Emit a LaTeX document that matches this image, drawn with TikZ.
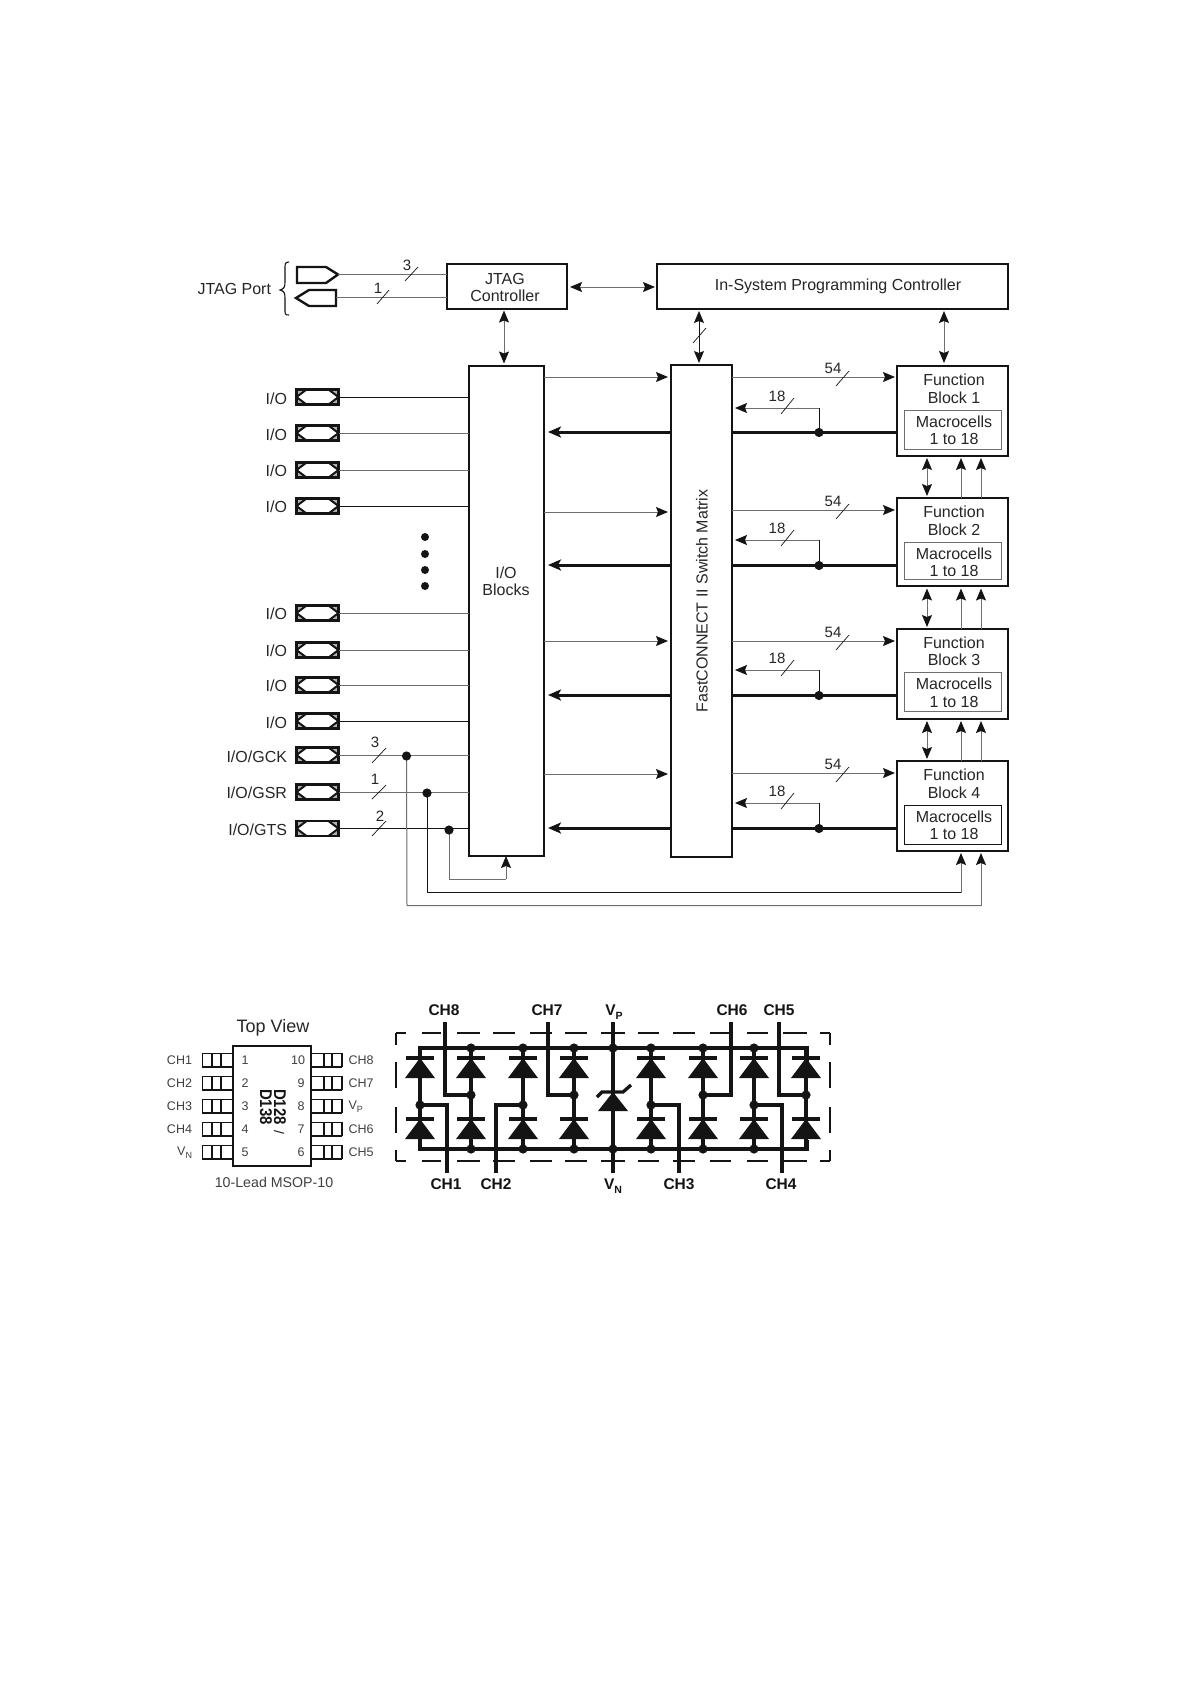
\documentclass[tikz,border=0pt]{standalone}
\usepackage{fontspec}
\setmainfont{Liberation Sans}
\usetikzlibrary{arrows.meta}
\newcommand{\fsz}[1]{\fontsize{#1}{#1}\selectfont}
\newcommand{\subs}[1]{\raisebox{-0.25em}{\fontsize{9}{9}\selectfont #1}}
\newcommand{\subsb}[1]{\raisebox{-0.3em}{\fontsize{10.5}{10.5}\selectfont #1}}
% \mybox[style]{name}{x0}{y0}{x1}{y1}{text}
\newcommand{\mybox}[7][]{\node[#1,minimum width={(#5-#3)*1pt},minimum height={(#6-#4)*1pt}] (#2) at ({(#3+#5)/2},{(#4+#6)/2}) {#7};}
\newcommand{\pinbi}[2]{%
  \node[pinbox] (#1) at (317.5,#2) {};
  \fill[gray!60] ([xshift=10pt]#1.north west) -- (#1.west) -- (#1.north west) -- cycle;
  \fill[gray!60] ([xshift=10pt]#1.south west) -- (#1.west) -- (#1.south west) -- cycle;
  \fill[gray!60] ([xshift=-10pt]#1.north east) -- (#1.east) -- (#1.north east) -- cycle;
  \fill[gray!60] ([xshift=-10pt]#1.south east) -- (#1.east) -- (#1.south east) -- cycle;
  \draw[pinedge] ([xshift=10pt]#1.north west) -- (#1.west) -- ([xshift=10pt]#1.south west);
  \draw[pinedge] ([xshift=-10pt]#1.north east) -- (#1.east) -- ([xshift=-10pt]#1.south east);
  \draw[draw=ink,line width=2.6pt] (#1.south west) rectangle (#1.north east);}
\newcommand{\diode}[2]{%
  \fill[ink] (#1,#2) -- (#1-15,#2+20) -- (#1+15,#2+20) -- cycle;
  \draw[cw] (#1-14,#2) -- (#1+14,#2);}
\definecolor{ink}{HTML}{141414}
\definecolor{wiregray}{HTML}{6E6E6E}
\tikzset{
  x=1pt,y=-1pt,
  every node/.style={font=\fsz{16},text=black!85,inner sep=0pt,outer sep=0pt},
  blockbox/.style={draw=ink,line width=2.6pt,fill=white,align=center},
  innerbox/.style={draw=wiregray,line width=1pt,fill=white},
  innerboxb/.style={draw=ink,line width=1pt,fill=white},
  pinbox/.style={draw=ink,line width=2.6pt,minimum width=42pt,minimum height=15pt,fill=white},
  pinedge/.style={draw=ink,line width=2pt},
  wire/.style={draw=wiregray,line width=1pt},
  wireb/.style={draw=ink,line width=1pt},
  thickw/.style={draw=ink,line width=3pt},
  arr/.style={-{Stealth[length=12pt,width=10pt,inset=2pt,ink]}},
  biarr/.style={{Stealth[length=12pt,width=10pt,inset=2pt,ink]}-{Stealth[length=12pt,width=10pt,inset=2pt,ink]}},
  thickarr/.style={-{Stealth[length=13pt,width=11pt,inset=3pt,ink]}},
  slash/.style={draw=ink,line width=0.7pt},
  num/.style={font=\fsz{15}},
  mcl/.style={align=center,font=\fsz{16}},
  dotj/.style={fill=ink},
  cw/.style={draw=ink,line width=3.3pt},
  dashb/.style={draw=ink,line width=2.4pt},
  chip/.style={draw=ink,line width=1.5pt,fill=white},
  pinl/.style={draw=ink,line width=1.3pt},
  small/.style={font=\fsz{12.5},text=black!75},
  bold/.style={font=\bfseries\fsz{15.5},text=ink},
}
\begin{document}
\begin{tikzpicture}
\useasboundingbox (0,0) rectangle (1191,1684);
\fill[white] (0,0) rectangle (1191,1684);

% ---------- main boxes
\mybox[blockbox]{jtag}{447}{264}{567}{309}{}
\node[align=center] (jtagtxt) at (505,287) {JTAG\\[1pt]Controller};
\mybox[blockbox]{isp}{657}{264}{1008}{309}{}
\node (isptxt) at (838,286) {In-System Programming Controller};
\mybox[blockbox]{io}{469}{366}{544}{856}{}
\node[align=center] (iotxt) at (506,581) {I/O\\[1pt]Blocks};
\mybox[blockbox]{sw}{671}{365}{732}{857}{}
\node[rotate=90] (swtxt) at (702,601) {FastCONNECT II Switch Matrix};

\mybox[blockbox]{fbA}{897}{366}{1008}{456}{}
\mybox[blockbox]{fbB}{897}{498}{1008}{586}{}
\mybox[blockbox]{fbC}{897}{629}{1008}{719}{}
\mybox[blockbox]{fbD}{897}{761}{1008}{851}{}
\mybox[innerbox]{mA}{904}{410}{1001}{449}{}
\mybox[innerbox]{mB}{904}{542}{1001}{579}{}
\mybox[innerbox]{mC}{904}{672}{1001}{711}{}
\mybox[innerboxb]{mD}{904}{805}{1001}{844}{}
\node[mcl] (tA) at (954,389) {Function\\[1.5pt]Block 1};
\node[mcl] (tB) at (954,521) {Function\\[1.5pt]Block 2};
\node[mcl] (tC) at (954,651.5) {Function\\[1.5pt]Block 3};
\node[mcl] (tD) at (954,784) {Function\\[1.5pt]Block 4};
\node[mcl] (cA) at (954,430.5) {Macrocells\\[1.5pt]1 to 18};
\begin{scope}
\clip (905,543) rectangle (1000,575);
\node[mcl] (cB) at (954,562.5) {Macrocells\\[1.5pt]1 to 18};
\end{scope}
\node[mcl] (cC) at (954,693) {Macrocells\\[1.5pt]1 to 18};
\node[mcl] (cD) at (954,825.5) {Macrocells\\[1.5pt]1 to 18};

% ---------- JTAG port
\node[anchor=east] (jtagport) at (271,289) {JTAG Port};
\draw[draw=ink,line width=1.1pt] (289,262) .. controls (285,262) and (285,264) .. (285,268)
  -- (285,282) .. controls (285,287) and (284,289) .. (280,290)
  .. controls (284,291) and (285,293) .. (285,298) -- (285,310)
  .. controls (285,314) and (285,315) .. (289,315);
\draw[draw=ink,line width=2.4pt,fill=white] (297,267) -- (326,267) -- (338,274.5) -- (326,283) -- (297,283) -- cycle;
\draw[draw=ink,line width=2.4pt,fill=white] (336,290) -- (309,290) -- (296,298) -- (309,306) -- (336,306) -- cycle;
\coordinate (ptop) at (338,274.5);
\coordinate (pbot) at (336,297.5);
\draw[wire] (ptop) -- (jtag.west |- ptop);
\draw[wire] (pbot) -- (jtag.west |- pbot);
\draw[slash] (405,281) -- (418,267);
\draw[slash] (377,304) -- (389,290);
\node[num] (n3a) at (407,265) {3};
\node[num] (n1a) at (378,288) {1};

% ---------- top links
\draw[wire,biarr] (570,287) -- (655,287);
\draw[wire,biarr] (504,310.5) -- (504,363.5);
\draw[wireb,biarr] (699,311) -- (699,363);
\draw[slash] (693,343) -- (706,328);
\draw[wire,biarr] (944,311) -- (944,363);

% ---------- I/O pins
\foreach \n/\y/\ly/\c in {a/397/398.5/wireb,b/433/434.5/wire,c/470/471/wire,d/506/507/wireb,e/613/614/wire,f/650/650.5/wire,g/685/686/wire,h/721/722.5/wireb}{
  \pinbi{pin\n}{\y}
  \draw[\c] (pin\n.east) -- (io.west |- pin\n.east);
  \node[anchor=east] (lab\n) at (287,\ly) {I/O};
}
\pinbi{pinGCK}{755}
\pinbi{pinGSR}{792}
\pinbi{pinGTS}{828.5}
\node[anchor=east] (labGCK) at (287,757) {I/O/GCK};
\node[anchor=east] (labGSR) at (287,793) {I/O/GSR};
\node[anchor=east] (labGTS) at (287,830) {I/O/GTS};
\draw[wire] (pinGCK.east) -- (io.west |- pinGCK.east);
\draw[wire] (pinGSR.east) -- (io.west |- pinGSR.east);
\draw[wireb] (pinGTS.east) -- (io.west |- pinGTS.east);
\draw[slash] (372,763) -- (386,748);
\draw[slash] (372,799) -- (386,785);
\draw[slash] (372,836) -- (386,821);
\node[num] (n3b) at (375,742) {3};
\node[num] (n1b) at (375,779) {1};
\node[num] (n2b) at (380,816) {2};
\foreach \y in {537,554,570,586}{\fill[dotj] (425,\y) circle (4);}

% global lines
\coordinate (gA) at (406.5,756);
\coordinate (gB) at (427,793);
\coordinate (gC) at (449,830);
\draw[wire] (gC) -- (449,879) -- (506,879);
\draw[wire,arr] (506,879) -- (io.south -| 506,0);
\draw[wireb] (gB) -- (427,892) -- (961,892);
\draw[wire,arr] (961,892.5) -- (961,853);
\draw[wire] (gA) -- (407,905.5) -- (981,905.5);
\draw[wire,arr] (981,905.5) -- (981,853);
\fill[dotj] (gA) circle (4.6);
\fill[dotj] (gB) circle (4.6);
\fill[dotj] (gC) circle (4.6);

% ---------- buses between blocks
\foreach \n/\ya/\yb/\yc/\yd/\mb in {A/377/408/432/377/fbA,B/510/540/565/512/fbB,C/641/670/695/641/fbC,D/773/803/828/774/fbD}{
  \draw[wire,arr] (sw.east |- 0,\ya) -- (895,\ya);
  \draw[wire,arr] (io.east |- 0,\yd) -- (668,\yd);
  \draw[wireb] (819,\yc) -- (819,\yb);
  \draw[wire,arr] (819,\yb) -- (735,\yb);
  \draw[thickw] (\mb.west |- 0,\yc) -- (sw.east |- 0,\yc);
  \draw[thickw,thickarr] (sw.west |- 0,\yc) -- (548,\yc);
  \fill[dotj] (819,\yc+0.5) circle (4.6);
  \draw[slash] (836,\ya+9) -- (849,\ya-6);
  \draw[slash] (781,\yb+6) -- (794,\yb-10);
  \node[num] (n54\n) at (833,\ya-9) {54};
  \node[num] (n18\n) at (777,\yb-12) {18};
}

% ---------- links between function blocks
\foreach \ya/\yb in {458/496,588.5/627,721/759}{
  \draw[wire,biarr] (927,\ya) -- (927,\yb);
  \draw[wire,arr] (961,\yb+2) -- (961,\ya);
  \draw[wire,arr] (981,\yb+2) -- (981,\ya);
}

% ---------- package drawing
\node[font=\fsz{18}] (topview) at (273,1028) {Top View};
\node[small,font=\fsz{14.2}] (msop) at (274,1182) {10-Lead MSOP-10};
\foreach \y in {1060,1083,1106,1129,1152}{
  \draw[pinl,fill=white] (202.5,\y-6.5) rectangle (233,\y+6.5);
  \draw[pinl] (212,\y-6.5) -- (212,\y+6.5);
  \draw[pinl] (221,\y-6.5) -- (221,\y+6.5);
  \draw[draw=ink,line width=2pt] (202,\y+6.5) -- (233,\y+6.5);
  \draw[pinl,fill=white] (311,\y-6.5) rectangle (342,\y+6.5);
  \draw[pinl] (324,\y-6.5) -- (324,\y+6.5);
  \draw[pinl] (332,\y-6.5) -- (332,\y+6.5);
  \draw[draw=ink,line width=2pt] (311,\y+6.5) -- (342,\y+6.5);
}
\mybox[chip]{pkg}{233}{1046}{311}{1166}{}
\foreach \n/\y in {1/1060,2/1083,3/1106,4/1129,5/1152}{\node[small] (numL\n) at (245,\y) {\n};}
\foreach \n/\y in {9/1083,8/1106,7/1129,6/1152}{\node[small] (numR\n) at (301,\y) {\n};}
\node[small] (numR10) at (298,1060) {10};
\foreach \t/\y in {1/1060,2/1083,3/1106,4/1129}{\node[small,anchor=east] (cl\t) at (192,\y) {CH\t};}
\node[small,anchor=east] (clN) at (192,1153) {V\subs{N}};
\foreach \t/\y in {8/1060,7/1083,6/1129,5/1152}{\node[small,anchor=west] (cr\t) at (348.5,\y) {CH\t};}
\node[small,anchor=west] (crP) at (348.5,1107) {V\subs{P}};
\node[rotate=-90,anchor=west,font=\bfseries\fsz{17},text=ink] (d128) at (280,1089) {\scalebox{.88}[1]{D128}\hspace{6pt}{\mdseries\fsz{14}/}};
\node[rotate=-90,anchor=west,font=\bfseries\fsz{17},text=ink] (d138) at (266,1089) {\scalebox{.88}[1]{D138}};

% ---------- protection schematic
\foreach \a/\b in {396/406,422/441,457/480,493/515,530/552,565/587,601/625,638/659,673/695,710/731,747/768,783/807,820/830}{
  \draw[dashb] (\a,1033) -- (\b,1033);
  \draw[dashb] (\a,1161) -- (\b,1161);
}
\foreach \a/\b in {1033/1045,1062/1088,1107/1133,1150/1161}{
  \draw[dashb] (396,\a) -- (396,\b);
  \draw[dashb] (830,\a) -- (830,\b);
}
% rails
\draw[cw] (420,1078) -- (420,1048) -- (807,1048) -- (807,1078);
\draw[cw] (420,1140) -- (420,1149) -- (807,1149) -- (807,1140);
% columns
\foreach \x in {420,471,523,574,651,703,754,806}{
  \draw[cw] (\x,1048) -- (\x,1149);
  \diode{\x}{1058}
  \diode{\x}{1119}
}
\foreach \x in {471,523,574,613,651,703,754}{
  \fill[dotj] (\x,1048) circle (4.6);
  \fill[dotj] (\x,1149) circle (4.6);
}
% channel wires
\draw[cw] (420,1105) -- (447,1105) -- (447,1173);
\draw[cw] (471,1095) -- (445,1095) -- (445,1022);
\draw[cw] (523,1105) -- (496,1105) -- (496,1173);
\draw[cw] (574,1095) -- (548,1095) -- (548,1022);
\draw[cw] (651,1105) -- (679,1105) -- (679,1173);
\draw[cw] (703,1095) -- (731,1095) -- (731,1022);
\draw[cw] (754,1105) -- (782,1105) -- (782,1173);
\draw[cw] (806,1095) -- (779,1095) -- (779,1022);
\foreach \x/\y in {420/1105,471/1095,523/1105,574/1095,651/1105,703/1095,754/1105,806/1095}{
  \fill[dotj] (\x,\y) circle (4.6);
}
% zener
\draw[cw] (613,1022) -- (613,1173);
\fill[ink] (613,1092) -- (598,1111) -- (628,1111) -- cycle;
\draw[cw] (597,1097) -- (602,1092) -- (623,1092) -- (631,1085);
% labels
\node[bold] (ch8) at (444,1010) {CH8};
\node[bold] (ch7) at (547,1010) {CH7};
\node[bold] (vp)  at (614,1012) {V\subsb{P}};
\node[bold] (ch6) at (732,1010) {CH6};
\node[bold] (ch5) at (779,1010) {CH5};
\node[bold] (ch1) at (446,1184) {CH1};
\node[bold] (ch2) at (496,1184) {CH2};
\node[bold] (vn)  at (613,1186) {V\subsb{N}};
\node[bold] (ch3) at (679,1184) {CH3};
\node[bold] (ch4) at (781,1184) {CH4};
\end{tikzpicture}
\end{document}
